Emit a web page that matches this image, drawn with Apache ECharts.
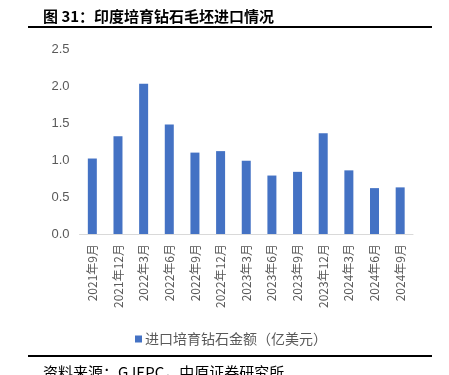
<!DOCTYPE html>
<html>
<head>
<meta charset="utf-8">
<script src="https://cdn.jsdelivr.net/npm/echarts@6/dist/echarts.min.js"></script>
<style>
  html, body { margin: 0; padding: 0; background: #fff; }
  #chart { width: 449px; height: 375px; }
</style>
</head>
<body>
<div id="chart"></div>
<script>
// 季度
var categories = ['2021年9月', '2021年12月', '2022年3月', '2022年6月', '2022年9月', '2022年12月',
  '2023年3月', '2023年6月', '2023年9月', '2023年12月', '2024年3月', '2024年6月', '2024年9月'];
// 进口培育钻石金额（亿美元）
var importValues = [1.02, 1.32, 2.03, 1.48, 1.10, 1.12, 0.99, 0.79, 0.84, 1.36, 0.86, 0.62, 0.63];
var seriesName = '进口培育钻石金额（亿美元）';

var chart = echarts.init(document.getElementById('chart'));
var labelColor = '#595959';

chart.setOption({
  animation: false,
  title: [
    {
      text: '图 31：印度培育钻石毛坯进口情况',
      left: 38,
      top: 4,
      textStyle: {fontSize: 15, fontWeight: 'bold', color: '#000', fontFamily: 'Noto Sans CJK SC'}
    },
    {
      text: '资料来源：GJEPC，中原证券研究所',
      left: 38,
      top: 360,
      textStyle: {fontSize: 15, fontWeight: 'normal', color: '#000', fontFamily: 'Noto Sans CJK SC'}
    }
  ],
  graphic: [
    {type: 'rect', shape: {x: 28, y: 26, width: 404, height: 2}, style: {fill: '#000'}},
    {type: 'rect', shape: {x: 28, y: 355, width: 404, height: 2}, style: {fill: '#000'}}
  ],
  legend: {
    data: [seriesName],
    left: 130,
    top: 327,
    itemWidth: 7,
    itemHeight: 7,
    itemGap: 4,
    icon: 'rect',
    textStyle: {fontSize: 14, color: labelColor, fontFamily: 'Noto Sans CJK SC', padding: [0, 0, 0, -2]}
  },
  grid: {left: 79.5, right: 36, top: 49, bottom: 141, containLabel: false},
  xAxis: {
    type: 'category',
    data: categories,
    axisLine: {show: true, lineStyle: {color: '#d9d9d9', width: 1}},
    axisTick: {show: false},
    axisLabel: {
      rotate: 90,
      interval: 0,
      margin: 10,
      fontSize: 12,
      color: labelColor,
      fontFamily: 'Noto Sans CJK SC'
    }
  },
  yAxis: {
    type: 'value',
    min: 0,
    max: 2.5,
    interval: 0.5,
    splitLine: {show: false},
    axisLine: {show: false},
    axisTick: {show: false},
    axisLabel: {
      margin: 10,
      fontSize: 13,
      color: labelColor,
      fontFamily: 'Liberation Sans',
      formatter: function (v) { return v.toFixed(1); }
    }
  },
  series: [
    {
      name: seriesName,
      type: 'bar',
      data: importValues,
      barWidth: 9,
      itemStyle: {color: '#4472C4'}
    }
  ]
});
</script>
</body>
</html>
